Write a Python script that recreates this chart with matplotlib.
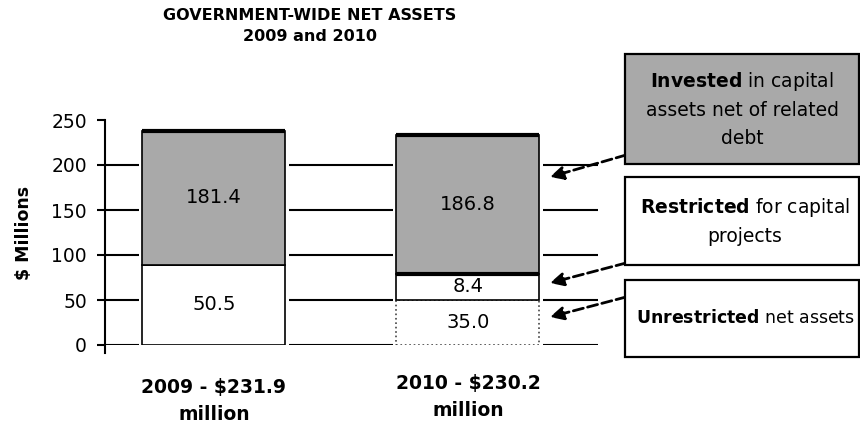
import numpy as np
import matplotlib
matplotlib.use("Agg")
from matplotlib import pyplot as plt
from matplotlib.patches import Rectangle
from matplotlib.transforms import ScaledTranslation

plt.rcParams['font.family'] = ['DejaVu Sans']
plt.rcParams['mathtext.fontset'] = 'dejavusans'

# bar segment heights as drawn in the picture ($ millions)
years = ['2009 - $231.9\nmillion', '2010 - $230.2\nmillion']
unrestricted = [89, 50]
restricted = [0, 29]
invested = [149, 154]
# value labels printed on the segments
unrestricted_lbl = ['50.5', '35.0']
restricted_lbl = ['', '8.4']
invested_lbl = ['181.4', '186.8']
yticks = [0, 50, 100, 150, 200, 250]

W, H = 860, 424


def fx(px):
    return px / W


def fy(py):
    return 1 - py / H


fig = plt.figure(figsize=(8.6, 4.24), dpi=100)
ax = fig.add_axes([fx(105), fy(345), fx(598 - 105), (345 - 120) / H])

x = np.arange(len(years))
w = 0.563
unres = np.array(unrestricted)
res = np.array(restricted)
inv = np.array(invested)
bot_inv = unres + res
tops = bot_inv + inv

for g in [0, 50, 100, 150, 200]:
    ax.axhline(g, color='black', lw=1.5, zorder=1)

# white margin so gridlines stop short of the bars
ax.bar(x, tops, w + 0.03, color='white', zorder=2)

b1 = ax.bar(x, unres, w, color='white', edgecolor='black', lw=1.2, zorder=3)
b1[1].set_linestyle(':')
b1[1].set_edgecolor('#444444')
ax.bar(x, res, w, bottom=unres, color='white', edgecolor='black', lw=1.2, zorder=3)
ax.bar(x, inv, w, bottom=bot_inv, color='#a9a9a9', edgecolor='black', lw=1.2, zorder=3)
ax.hlines(tops, x - w / 2, x + w / 2, color='black', lw=3, zorder=4)
thick = res > 0
ax.hlines(bot_inv[thick], (x - w / 2)[thick], (x + w / 2)[thick], color='black', lw=3, zorder=4)

for i in range(len(x)):
    for lbl, b, h in [(unrestricted_lbl[i], 0, unres[i]),
                      (restricted_lbl[i], unres[i], res[i]),
                      (invested_lbl[i], bot_inv[i], inv[i])]:
        if lbl:
            ax.text(x[i], b + h / 2, lbl, ha='center', va='center', fontsize=14, zorder=5)

ax.set_xlim(-0.429, 1.512)
ax.set_ylim(0, 250)
ax.set_yticks(yticks)
ax.set_xticks(x)
ax.set_xticklabels(years, fontsize=13.5, fontweight='bold', linespacing=1.5)
ax.tick_params(axis='x', length=0, pad=24)
ax.tick_params(axis='y', length=6, width=1.5, pad=7, labelsize=13.5)
for s in ['top', 'right', 'bottom']:
    ax.spines[s].set_visible(False)
ax.spines['left'].set_linewidth(1.5)
ax.spines['left'].set_bounds(-9, 250)
ax.spines['left'].set_clip_on(False)
ax.set_ylabel('$ Millions', fontsize=12.5, fontweight='bold')
ax.yaxis.set_label_coords(-0.146, 0.5)

# the 2010 label sits a little higher in the original
lab = ax.get_xticklabels()[1]
lab.set_transform(lab.get_transform() + ScaledTranslation(0, 4 / 100, fig.dpi_scale_trans))

fig.text(fx(310), fy(26), 'GOVERNMENT-WIDE NET ASSETS\n2009 and 2010', ha='center', va='center',
         fontsize=11.5, fontweight='bold', linespacing=1.5)

# legend boxes on the right
boxes = [(54, 164, '#a9a9a9'), (177, 265, 'white'), (280, 357, 'white')]
for top, bottom, fc in boxes:
    fig.add_artist(Rectangle((fx(625), fy(bottom)), fx(858.5 - 625), (bottom - top) / H,
                             transform=fig.transFigure, fc=fc, ec='black', lw=1.6))

fig.text(fx(742), fy(109), r'$\mathbf{Invested}$ in capital' + '\nassets net of related\ndebt',
         ha='center', va='center', fontsize=13.5, linespacing=1.55)
fig.text(fx(745), fy(221), r'$\mathbf{Restricted}$ for capital' + '\nprojects',
         ha='center', va='center', fontsize=13.5, linespacing=1.55)
fig.text(fx(745), fy(318), r'$\mathbf{Unrestricted}$ net assets',
         ha='center', va='center', fontsize=12.5)

# dashed arrows from the boxes to the 2010 bar
arrow_tips = [186.7, 68.9, 31.1]
arrow_starts = [155, 263, 297]
for tip, start in zip(arrow_tips, arrow_starts):
    ax.annotate('', xy=(1.323, tip), xycoords='data',
                xytext=(fx(626), fy(start)), textcoords='figure fraction',
                arrowprops=dict(arrowstyle='-|>', color='black', lw=2, ls='--',
                                mutation_scale=20, shrinkA=0, shrinkB=0))

fig.savefig('out.png', dpi=100)
